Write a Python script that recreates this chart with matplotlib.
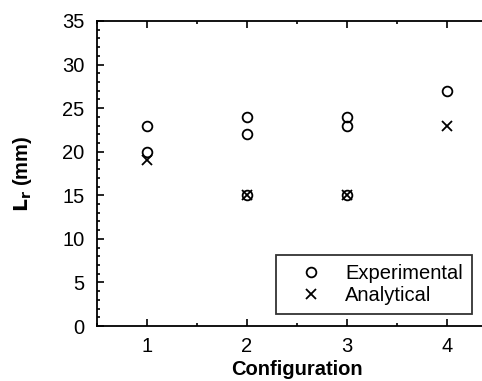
import numpy as np
import matplotlib
matplotlib.use("Agg")
from matplotlib import pyplot as plt
from matplotlib.ticker import MultipleLocator

# data
exp_config = [1, 1, 2, 2, 2, 3, 3, 3, 4]
exp_lr = [23, 20, 24, 22, 15, 24, 23, 15, 27]
ana_config = [1, 2, 3, 4]
ana_lr = [19, 15, 15, 23]

plt.rcParams['font.family'] = ['Liberation Sans', 'DejaVu Sans']

fig = plt.figure(figsize=(4.82, 3.81), dpi=100)
ax = fig.add_axes([97 / 482, 55 / 381, 400 / 482, 305 / 381])

ax.plot(exp_config, exp_lr, linestyle='none', marker='o', markersize=7,
        markerfacecolor='none', markeredgecolor='black', markeredgewidth=1.3,
        label='Experimental')
ax.plot(ana_config, ana_lr, linestyle='none', marker='x', markersize=7,
        color='black', markeredgewidth=1.3, label='Analytical')

ax.set_xlim(0.5, 4.5)
ax.set_ylim(0, 35)
ax.xaxis.set_major_locator(MultipleLocator(1))
ax.xaxis.set_minor_locator(MultipleLocator(0.5))
ax.yaxis.set_major_locator(MultipleLocator(5))
ax.yaxis.set_minor_locator(MultipleLocator(1))
ax.tick_params(which='both', direction='in', top=True, right=True,
               labelsize=14.5, width=1.2)
ax.tick_params(axis='x', which='major', length=5, pad=8)
ax.tick_params(axis='y', which='major', length=5, pad=9)
ax.tick_params(which='minor', length=2.5)
for s in ax.spines.values():
    s.set_linewidth(1.3)

ax.set_xlabel('Configuration', fontsize=14.5, fontweight='bold', labelpad=3)
ax.set_ylabel(r'$\mathbf{L_r}$ (mm)', fontsize=14.5, fontweight='bold', labelpad=20)

# wide handle keeps the marker away from the box edge like the original
leg = ax.legend(loc='lower right', bbox_to_anchor=(0.9375, 0.039),
                fontsize=14.5, frameon=True, fancybox=False, edgecolor='black',
                handlelength=2.6, handletextpad=0.4, borderpad=0.45,
                borderaxespad=0, labelspacing=0.15)
leg.get_frame().set_linewidth(1.3)

fig.savefig('out.png', dpi=100)
